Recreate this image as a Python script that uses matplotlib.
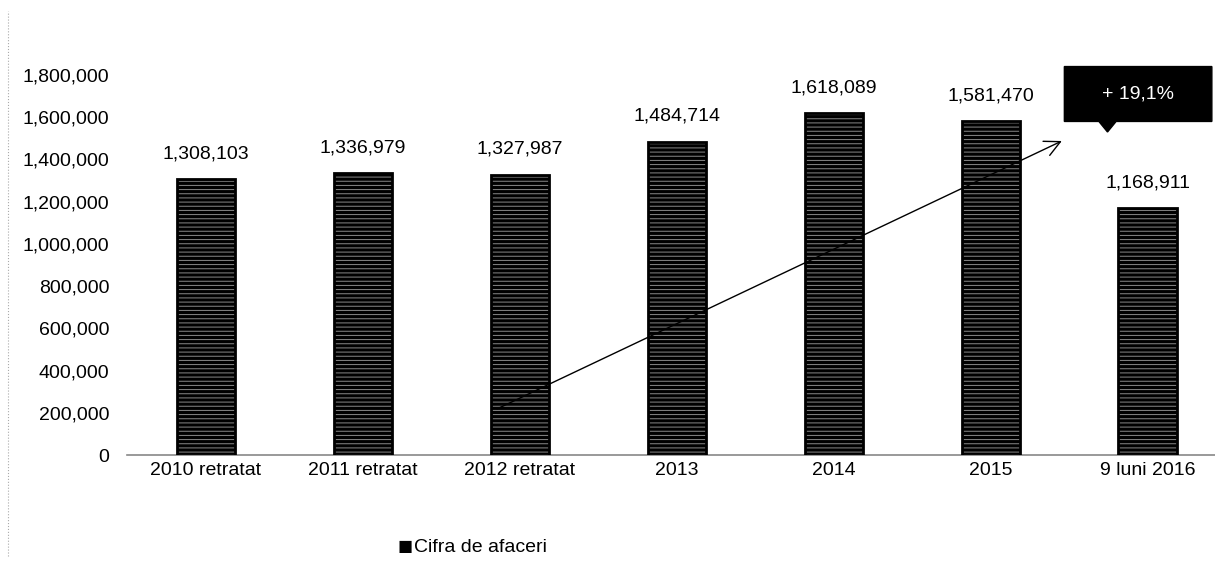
import numpy as np
import matplotlib
matplotlib.use('Agg')
import matplotlib.pyplot as plt
from matplotlib.patches import Polygon
from matplotlib import font_manager

categories = ['2010 retratat', '2011 retratat', '2012 retratat', '2013', '2014', '2015', '9 luni 2016']
values = [1308103, 1336979, 1327987, 1484714, 1618089, 1581470, 1168911]
yticks = [0, 200000, 400000, 600000, 800000, 1000000, 1200000, 1400000, 1600000, 1800000]
series_name = 'Cifra de afaceri'
growth_label = '+ 19,1%'

names = {f.name for f in font_manager.fontManager.ttflist}
if 'Liberation Sans Narrow' in names:
    plt.rcParams['font.family'] = ['Liberation Sans Narrow', 'DejaVu Sans']
    fs = 16
else:
    plt.rcParams['font.family'] = ['Liberation Sans', 'DejaVu Sans']
    fs = 14
plt.rcParams['hatch.linewidth'] = 0.7

fig = plt.figure(figsize=(12.15, 5.67), dpi=100)
ax = fig.add_axes([127.5 / 1215, 1 - 455 / 567, (1215 - 127.5) / 1215, (455 - 75) / 567])

x = np.arange(len(categories))
# striped fill, then a black outline
ax.bar(x, values, width=0.37, color='black', edgecolor='#8a8a8a', hatch='----', linewidth=0, zorder=2)
ax.bar(x, values, width=0.37, fill=False, edgecolor='black', linewidth=2.0, zorder=3)

for xi, v in zip(x, values):
    ax.annotate(f'{v:,}', (xi, v), xytext=(0, 12), textcoords='offset points',
                ha='center', va='bottom', fontsize=fs)

ax.set_xlim(-0.5, 6.43)
ax.set_ylim(0, 1800000)
ax.set_yticks(yticks)
ax.set_yticklabels([f'{t:,}' for t in yticks], fontsize=fs)
ax.set_xticks(x)
ax.set_xticklabels(categories, fontsize=fs)
ax.tick_params(length=0, pad=5)
ax.tick_params(axis='y', pad=13)
for s in ['top', 'right', 'left']:
    ax.spines[s].set_visible(False)
ax.spines['bottom'].set_color('#888888')
ax.spines['bottom'].set_linewidth(1.2)

# trend arrow
ax.annotate('', xy=(5.47, 1493000), xytext=(1.84, 213000),
            arrowprops=dict(arrowstyle='->', color='black', lw=1.0, mutation_scale=28))

# black callout box
bx0, bx1 = 5.47, 6.41
by0, by1 = 1580000, 1840000
poly = Polygon([(bx0, by1), (bx1, by1), (bx1, by0), (5.80, by0), (5.745, by0 - 50000),
                (5.69, by0), (bx0, by0)], closed=True, facecolor='black', edgecolor='black',
               clip_on=False, zorder=4)
ax.add_patch(poly)
ax.text((bx0 + bx1) / 2, (by0 + by1) / 2, growth_label, color='white', ha='center', va='center',
        fontsize=fs, zorder=5, clip_on=False)

# legend
fig.text(405 / 1215, 1 - 547 / 567, '\u25a0', fontsize=fs + 4, ha='center', va='center')
fig.text(414 / 1215, 1 - 548 / 567, series_name, fontsize=fs, ha='left', va='center')

# scan edge
fig.add_artist(plt.Line2D([8 / 1215, 8 / 1215], [0.02, 0.98], color='#aaaaaa', lw=0.8, ls=':'))

fig.savefig('out.png', dpi=100)
